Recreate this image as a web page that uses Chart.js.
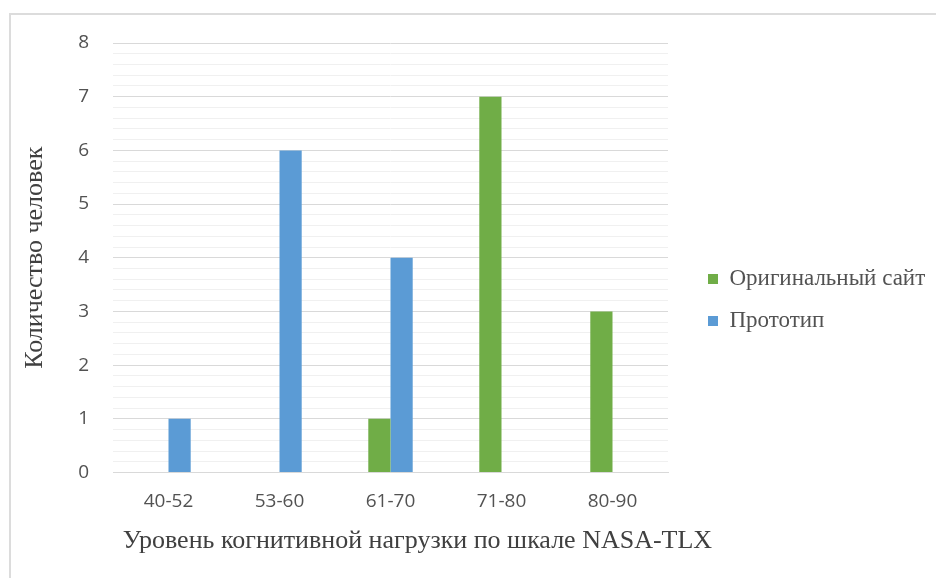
<!DOCTYPE html>
<html>
<head>
<meta charset="utf-8">
<script src="https://cdn.jsdelivr.net/npm/chart.js@4/dist/chart.umd.min.js"></script>
<style>
  html, body { margin: 0; padding: 0; background: #ffffff; }
  #wrap { position: relative; width: 936px; height: 578px; overflow: hidden; }
  #frame { position: absolute; left: 9px; top: 13px; width: 960px; height: 600px;
           border-left: 2px solid #dcdcdc; border-top: 2px solid #dcdcdc; }
  #chart { position: absolute; left: 0; top: 0; }
</style>
</head>
<body>
<div id="wrap">
  <div id="frame"></div>
  <canvas id="chart" width="936" height="578"></canvas>
</div>
<script>
// Score ranges on the NASA-TLX scale
const categories = ['40-52', '53-60', '61-70', '71-80', '80-90'];
// Number of respondents per range
const originalSite = [0, 0, 1, 7, 3];
const prototypeSite = [1, 6, 4, 0, 0];
const seriesNames = ['Оригинальный сайт', 'Прототип'];
const xTitle = 'Уровень когнитивной нагрузки по шкале NASA-TLX';
const yTitle = 'Количество человек';

const GREEN = '#70ad47';
const BLUE = '#5b9bd5';
const TEXT = '#525252';
const TITLE = '#404040';
const SERIF = '"Liberation Serif", "Times New Roman", serif';
const SANS = '"Open Sans", "Liberation Sans", sans-serif';

const isWhole = v => Math.abs(v - Math.round(v)) < 1e-6;

// Fixed-width legend column, with its items nudged into place
const legendPlacement = {
  id: 'legendPlacement',
  beforeInit(chart) {
    const lg = chart.legend;
    if (lg && !lg._fixedFit) {
      const fit = lg.fit.bind(lg);
      lg.fit = function () { fit(); this.width = 268; };
      lg._fixedFit = true;
    }
  },
  afterLayout(chart) {
    const lg = chart.legend;
    if (!lg) return;
    lg.left = chart.chartArea.right + 21;
    lg.right = chart.width;
    lg.top = 22;
    lg.bottom = chart.height;
  }
};

// Category axis title, centred under the plot and its tick labels
const bottomTitle = {
  id: 'bottomTitle',
  afterDraw(chart) {
    const ctx = chart.ctx;
    ctx.save();
    ctx.font = '26px ' + SERIF;
    ctx.fillStyle = TITLE;
    ctx.textAlign = 'center';
    ctx.textBaseline = 'alphabetic';
    ctx.fillText(xTitle, chart.chartArea.left + (chart.chartArea.right - chart.chartArea.left) / 2 + 27, 548);
    ctx.restore();
  }
};

new Chart(document.getElementById('chart'), {
  type: 'bar',
  data: {
    labels: categories,
    datasets: [
      { label: seriesNames[0], data: originalSite, backgroundColor: GREEN, borderWidth: 0 },
      { label: seriesNames[1], data: prototypeSite, backgroundColor: BLUE, borderWidth: 0 }
    ]
  },
  options: {
    responsive: false,
    animation: false,
    layout: { padding: { top: 43, left: 0, right: 0, bottom: 0 } },
    datasets: { bar: { categoryPercentage: 0.4, barPercentage: 1.0 } },
    plugins: {
      tooltip: { enabled: false },
      legend: {
        position: 'right',
        align: 'center',
        labels: {
          boxWidth: 10,
          boxHeight: 10,
          padding: 19,
          color: TEXT,
          font: { family: SERIF, size: 23 }
        }
      }
    },
    scales: {
      x: {
        afterFit(scale) { scale.height = 105.5; },
        grid: { display: false, drawTicks: false },
        border: { display: true, color: '#d9d9d9', width: 1 },
        ticks: {
          color: TEXT,
          padding: 18,
          font: { family: SANS, size: 19 }
        }
      },
      y: {
        min: 0,
        max: 8,
        afterFit(scale) { scale.width = 113; },
        border: { display: false },
        grid: {
          drawTicks: false,
          color: ctx => isWhole(ctx.tick.value) ? '#d9d9d9' : '#f0f0f0',
          lineWidth: 1
        },
        ticks: {
          stepSize: 0.2,
          autoSkip: false,
          padding: 24,
          color: TEXT,
          font: { family: SANS, size: 19 },
          callback: v => isWhole(v) ? String(Math.round(v)) : ''
        },
        title: {
          display: true,
          text: yTitle,
          color: TITLE,
          padding: { top: 19.5, bottom: 0 },
          font: { family: SERIF, size: 26 }
        }
      }
    }
  },
  plugins: [legendPlacement, bottomTitle]
});
</script>
</body>
</html>
